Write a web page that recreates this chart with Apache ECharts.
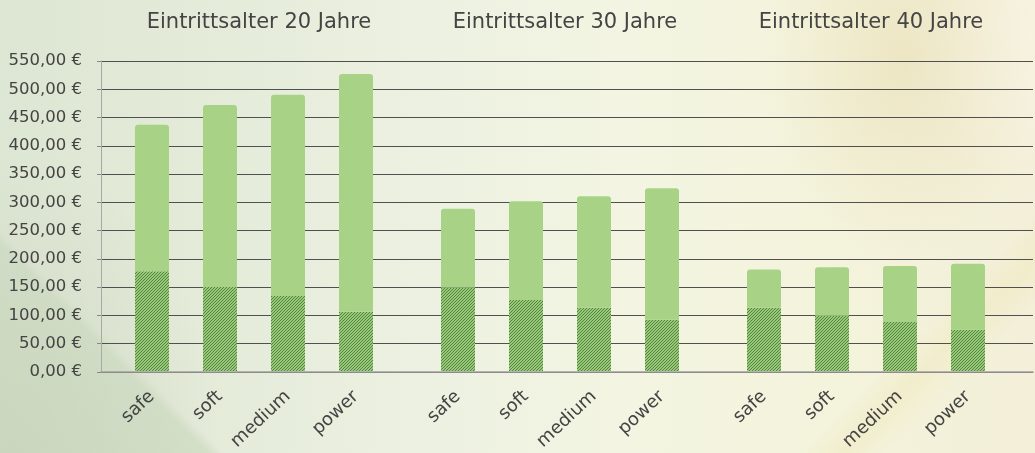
<!DOCTYPE html>
<html>
<head>
<meta charset="utf-8">
<script src="https://cdn.jsdelivr.net/npm/echarts@6/dist/echarts.min.js"></script>
<style>
  html, body { margin: 0; padding: 0; }
  body {
    width: 1035px; height: 453px; overflow: hidden;
    background:
      linear-gradient(135deg, rgba(255,255,255,0) 0%, rgba(255,255,255,0) 84%, rgba(236,228,170,0.30) 87%, rgba(255,255,255,0) 90%),
      linear-gradient(45deg, rgba(200,214,188,0.75) 0%, rgba(200,214,188,0.55) 14%, rgba(200,214,188,0) 15%),
      radial-gradient(ellipse 200px 300px at 20px 460px, rgba(200,212,188,0.6), rgba(200,212,188,0) 100%),
      radial-gradient(ellipse 140px 200px at 900px 60px, rgba(228,216,168,0.45), rgba(228,216,168,0) 100%),
      radial-gradient(ellipse 120px 140px at 1020px 40px, rgba(248,244,228,0.85), rgba(248,244,228,0) 100%),
      linear-gradient(90deg, #dde5d3 0%, #e4ebd9 20%, #edf1e1 42%, #f3f5e2 60%, #f4f3dc 80%, #f3efd8 100%);
  }
  #chart { width: 1035px; height: 453px; }
</style>
</head>
<body>
<div id="chart"></div>
<script>
const categories = ['safe', 'soft', 'medium', 'power'];
const groupTitles = ['Eintrittsalter 20 Jahre', 'Eintrittsalter 30 Jahre', 'Eintrittsalter 40 Jahre'];
// hatched (lower) part per group
const base20 = [177, 149, 133, 105];
const base30 = [148, 126, 112, 91];
const base40 = [112, 98, 87, 73];
// total bar height per group
const total20 = [437, 472, 490, 527];
const total30 = [288, 301, 310, 324];
const total40 = [180, 184, 186, 190];
const yTicks = [0, 50, 100, 150, 200, 250, 300, 350, 400, 450, 500, 550];

const bases = [base20, base30, base40];
const totals = [total20, total30, total40];

// hatch pattern
const pc = document.createElement('canvas');
pc.width = 3; pc.height = 3;
const pctx = pc.getContext('2d');
const img = pctx.createImageData(3, 3);
for (let y = 0; y < 3; y++) {
  for (let x = 0; x < 3; x++) {
    const i = (y * 3 + x) * 4;
    const dark = (x + y) % 3 === 0;
    img.data[i] = dark ? 88 : 150;
    img.data[i + 1] = dark ? 132 : 201;
    img.data[i + 2] = dark ? 66 : 120;
    img.data[i + 3] = 255;
  }
}
pctx.putImageData(img, 0, 0);

const font = '"DejaVu Sans", Roboto, sans-serif';
const chart = echarts.init(document.getElementById('chart'), null, { renderer: 'canvas' });

const plotTop = 61, plotBottom = 81;
const groupLefts = [118, 424, 730];
const groupWidth = 272;

const grid = [{ left: 101, right: 2, top: plotTop, bottom: plotBottom }];
const xAxis = [{
  gridIndex: 0, type: 'category', data: [''],
  axisLine: { show: true, lineStyle: { color: '#a0a0a0', width: 1.5 } },
  axisTick: { show: false }, axisLabel: { show: false }
}];
const yAxis = [{
  gridIndex: 0, type: 'value', min: yTicks[0], max: yTicks[yTicks.length - 1], interval: yTicks[1] - yTicks[0],
  axisLine: { show: true, lineStyle: { color: '#a8a8a8' } },
  axisTick: { show: true, length: 4, lineStyle: { color: '#888' } },
  splitLine: { show: true, lineStyle: { color: '#505050', width: 1 } },
  axisLabel: {
    margin: 19, color: '#444', fontFamily: font, fontSize: 16.5,
    formatter: v => v.toFixed(2).replace('.', ',') + ' €'
  }
}];
const title = [];
const series = [];

groupTitles.forEach((t, g) => {
  grid.push({ left: groupLefts[g], width: groupWidth, top: plotTop, bottom: plotBottom });
  xAxis.push({
    gridIndex: g + 1, type: 'category', data: categories,
    axisLine: { show: false }, axisTick: { show: false },
    axisLabel: { rotate: 43, margin: 23, color: '#444', fontFamily: font, fontSize: 18, interval: 0 }
  });
  yAxis.push({
    gridIndex: g + 1, type: 'value', min: yTicks[0], max: yTicks[yTicks.length - 1],
    show: false, splitLine: { show: false }
  });
  title.push({
    text: t, left: groupLefts[g] + groupWidth / 2, top: 7, textAlign: 'center',
    textStyle: { color: '#444', fontFamily: font, fontSize: 21, fontWeight: 'normal' }
  });
  series.push({
    type: 'bar', xAxisIndex: g + 1, yAxisIndex: g + 1, stack: 'g' + g,
    barWidth: 34, data: bases[g],
    itemStyle: { color: { image: pc, repeat: 'repeat' } },
    silent: true
  });
  series.push({
    type: 'bar', xAxisIndex: g + 1, yAxisIndex: g + 1, stack: 'g' + g,
    barWidth: 34, data: totals[g].map((v, i) => v - bases[g][i]),
    itemStyle: { color: '#a8d387', borderRadius: [3, 3, 0, 0] },
    silent: true
  });
});

chart.setOption({
  animation: false,
  backgroundColor: 'transparent',
  title, grid, xAxis, yAxis, series
});
</script>
</body>
</html>
